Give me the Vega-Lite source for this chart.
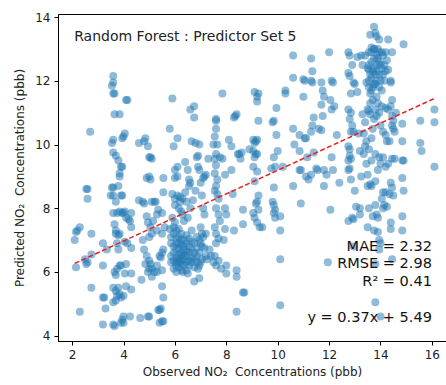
{
  "$schema": "https://vega.github.io/schema/vega-lite/v6.json",
  "width": 388,
  "height": 327,
  "autosize": "none",
  "padding": {"left": 58, "top": 14, "right": 0, "bottom": 44},
  "background": "white",
  "config": {
    "view": {"stroke": "black", "strokeWidth": 1},
    "font": "DejaVu Sans",
    "axis": {
      "grid": false,
      "domainColor": "black",
      "tickColor": "black",
      "tickSize": 4,
      "labelFont": "DejaVu Sans",
      "labelFontSize": 12,
      "labelColor": "#222",
      "titleFont": "DejaVu Sans",
      "titleFontSize": 12,
      "titleFontWeight": "normal",
      "titleColor": "#222"
    }
  },
  "layer": [
    {
      "data": {"values": [
        {"observed": 2.15, "predicted": 7.25}, {"observed": 2.1, "predicted": 7.0}, {"observed": 2.2, "predicted": 7.3}, {"observed": 2.3, "predicted": 7.4},
        {"observed": 2.15, "predicted": 6.15}, {"observed": 2.3, "predicted": 4.75}, {"observed": 2.6, "predicted": 8.6}, {"observed": 2.55, "predicted": 8.6},
        {"observed": 2.6, "predicted": 8.3}, {"observed": 2.7, "predicted": 10.4}, {"observed": 2.75, "predicted": 7.2}, {"observed": 2.6, "predicted": 6.3},
        {"observed": 2.55, "predicted": 6.25}, {"observed": 2.75, "predicted": 6.55}, {"observed": 2.75, "predicted": 5.5}, {"observed": 2.5, "predicted": 6.4},
        {"observed": 3.2, "predicted": 6.9}, {"observed": 3.2, "predicted": 6.2}, {"observed": 3.25, "predicted": 5.2}, {"observed": 3.2, "predicted": 5.2},
        {"observed": 3.3, "predicted": 4.85}, {"observed": 3.2, "predicted": 4.35}, {"observed": 3.35, "predicted": 6.7}, {"observed": 3.5, "predicted": 8.4},
        {"observed": 3.6, "predicted": 12.15}, {"observed": 3.6, "predicted": 11.95}, {"observed": 3.55, "predicted": 11.85}, {"observed": 3.6, "predicted": 11.6},
        {"observed": 3.65, "predicted": 11.6}, {"observed": 3.65, "predicted": 10.95}, {"observed": 3.85, "predicted": 10.95}, {"observed": 3.55, "predicted": 10.05},
        {"observed": 3.6, "predicted": 10.15}, {"observed": 3.6, "predicted": 9.75}, {"observed": 3.7, "predicted": 9.65}, {"observed": 3.55, "predicted": 8.65},
        {"observed": 3.6, "predicted": 8.65}, {"observed": 3.6, "predicted": 8.4}, {"observed": 3.7, "predicted": 8.2}, {"observed": 3.6, "predicted": 7.85},
        {"observed": 3.75, "predicted": 7.85}, {"observed": 3.8, "predicted": 8.7}, {"observed": 3.85, "predicted": 9.0}, {"observed": 3.8, "predicted": 9.5},
        {"observed": 3.9, "predicted": 9.3}, {"observed": 3.95, "predicted": 9.3}, {"observed": 3.85, "predicted": 9.1}, {"observed": 3.9, "predicted": 8.4},
        {"observed": 3.95, "predicted": 8.4}, {"observed": 3.85, "predicted": 7.9}, {"observed": 3.95, "predicted": 7.85}, {"observed": 3.65, "predicted": 7.5},
        {"observed": 3.7, "predicted": 7.3}, {"observed": 3.7, "predicted": 7.2}, {"observed": 3.8, "predicted": 7.15}, {"observed": 3.75, "predicted": 6.9},
        {"observed": 3.8, "predicted": 6.7}, {"observed": 3.85, "predicted": 7.2}, {"observed": 3.9, "predicted": 6.2}, {"observed": 3.85, "predicted": 6.2},
        {"observed": 3.75, "predicted": 6.1}, {"observed": 3.65, "predicted": 6.0}, {"observed": 3.7, "predicted": 5.9}, {"observed": 3.6, "predicted": 5.5},
        {"observed": 3.7, "predicted": 5.4}, {"observed": 3.8, "predicted": 5.5}, {"observed": 3.75, "predicted": 5.25}, {"observed": 3.85, "predicted": 5.3},
        {"observed": 3.9, "predicted": 5.2}, {"observed": 3.6, "predicted": 5.05}, {"observed": 3.7, "predicted": 5.1}, {"observed": 3.6, "predicted": 4.35},
        {"observed": 3.65, "predicted": 4.3}, {"observed": 3.95, "predicted": 4.5}, {"observed": 3.9, "predicted": 4.4}, {"observed": 4.0, "predicted": 4.4},
        {"observed": 4.0, "predicted": 5.25}, {"observed": 4.05, "predicted": 5.95},
        {"observed": 4.0, "predicted": 10.25}, {"observed": 4.05, "predicted": 10.35}, {"observed": 3.95, "predicted": 10.2}, {"observed": 4.15, "predicted": 11.4},
        {"observed": 4.1, "predicted": 11.4}, {"observed": 4.05, "predicted": 7.9}, {"observed": 4.1, "predicted": 7.7}, {"observed": 4.2, "predicted": 7.65},
        {"observed": 4.25, "predicted": 7.6}, {"observed": 4.3, "predicted": 7.85}, {"observed": 4.3, "predicted": 7.4}, {"observed": 4.15, "predicted": 6.9},
        {"observed": 4.3, "predicted": 6.75}, {"observed": 4.1, "predicted": 6.25}, {"observed": 4.3, "predicted": 5.95}, {"observed": 4.0, "predicted": 4.6},
        {"observed": 4.1, "predicted": 5.55}, {"observed": 4.3, "predicted": 5.45}, {"observed": 4.25, "predicted": 4.6}, {"observed": 4.05, "predicted": 6.95},
        {"observed": 4.0, "predicted": 7.85},
        {"observed": 4.6, "predicted": 10.05}, {"observed": 4.8, "predicted": 10.1}, {"observed": 4.85, "predicted": 10.2}, {"observed": 4.95, "predicted": 9.95},
        {"observed": 5.0, "predicted": 9.6}, {"observed": 5.05, "predicted": 9.6}, {"observed": 5.1, "predicted": 9.55}, {"observed": 4.9, "predicted": 8.95},
        {"observed": 5.0, "predicted": 9.0}, {"observed": 5.05, "predicted": 8.9}, {"observed": 4.6, "predicted": 8.25}, {"observed": 4.75, "predicted": 8.2},
        {"observed": 4.8, "predicted": 8.15}, {"observed": 5.1, "predicted": 8.2}, {"observed": 5.2, "predicted": 8.2}, {"observed": 5.25, "predicted": 8.2},
        {"observed": 5.35, "predicted": 7.95}, {"observed": 5.3, "predicted": 7.8}, {"observed": 4.9, "predicted": 7.75}, {"observed": 4.95, "predicted": 7.55},
        {"observed": 5.05, "predicted": 7.4}, {"observed": 5.15, "predicted": 7.6}, {"observed": 5.3, "predicted": 7.3}, {"observed": 5.1, "predicted": 7.2},
        {"observed": 5.0, "predicted": 7.1}, {"observed": 4.75, "predicted": 7.0}, {"observed": 4.8, "predicted": 6.7}, {"observed": 4.9, "predicted": 6.5},
        {"observed": 5.0, "predicted": 6.35}, {"observed": 5.05, "predicted": 6.25}, {"observed": 5.1, "predicted": 6.1}, {"observed": 5.2, "predicted": 6.0},
        {"observed": 5.0, "predicted": 6.1}, {"observed": 4.95, "predicted": 6.0}, {"observed": 5.1, "predicted": 5.85}, {"observed": 4.85, "predicted": 6.25},
        {"observed": 4.7, "predicted": 5.75}, {"observed": 5.3, "predicted": 6.2}, {"observed": 5.4, "predicted": 6.5}, {"observed": 5.45, "predicted": 6.45},
        {"observed": 5.3, "predicted": 6.0}, {"observed": 5.5, "predicted": 6.05}, {"observed": 5.55, "predicted": 6.7}, {"observed": 5.5, "predicted": 6.6},
        {"observed": 5.5, "predicted": 7.2}, {"observed": 5.6, "predicted": 7.4}, {"observed": 5.5, "predicted": 7.85}, {"observed": 5.55, "predicted": 8.5},
        {"observed": 5.55, "predicted": 8.95}, {"observed": 5.5, "predicted": 5.55}, {"observed": 5.55, "predicted": 5.2}, {"observed": 5.35, "predicted": 4.8},
        {"observed": 5.4, "predicted": 4.8}, {"observed": 5.45, "predicted": 4.85}, {"observed": 5.4, "predicted": 4.4}, {"observed": 5.5, "predicted": 4.45},
        {"observed": 5.55, "predicted": 4.45}, {"observed": 5.0, "predicted": 4.6}, {"observed": 4.65, "predicted": 4.55}, {"observed": 4.95, "predicted": 4.6},
        {"observed": 5.9, "predicted": 11.45}, {"observed": 5.8, "predicted": 10.5}, {"observed": 5.95, "predicted": 9.95}, {"observed": 6.1, "predicted": 10.2},
        {"observed": 6.0, "predicted": 8.95}, {"observed": 6.0, "predicted": 9.2}, {"observed": 6.1, "predicted": 9.0}, {"observed": 6.1, "predicted": 9.3},
        {"observed": 5.9, "predicted": 8.45}, {"observed": 6.0, "predicted": 8.3}, {"observed": 6.1, "predicted": 8.4}, {"observed": 6.2, "predicted": 8.35},
        {"observed": 6.3, "predicted": 8.3}, {"observed": 6.2, "predicted": 8.2}, {"observed": 6.0, "predicted": 8.1}, {"observed": 6.15, "predicted": 8.0},
        {"observed": 6.25, "predicted": 7.9}, {"observed": 6.3, "predicted": 7.8}, {"observed": 6.4, "predicted": 8.5}, {"observed": 6.4, "predicted": 9.45},
        {"observed": 6.5, "predicted": 9.2}, {"observed": 6.55, "predicted": 8.9}, {"observed": 6.6, "predicted": 8.8}, {"observed": 6.55, "predicted": 8.7},
        {"observed": 6.45, "predicted": 8.2}, {"observed": 6.35, "predicted": 7.6}, {"observed": 6.5, "predicted": 7.7}, {"observed": 6.6, "predicted": 8.0},
        {"observed": 6.7, "predicted": 8.25}, {"observed": 5.9, "predicted": 7.7}, {"observed": 6.0, "predicted": 7.55}, {"observed": 5.8, "predicted": 7.35},
        {"observed": 5.85, "predicted": 6.3}, {"observed": 5.85, "predicted": 6.5}, {"observed": 5.85, "predicted": 6.9}, {"observed": 5.85, "predicted": 7.1},
        {"observed": 5.95, "predicted": 6.1}, {"observed": 5.95, "predicted": 6.35}, {"observed": 5.95, "predicted": 6.6}, {"observed": 5.95, "predicted": 6.8},
        {"observed": 5.95, "predicted": 7.2}, {"observed": 5.95, "predicted": 7.4}, {"observed": 6.05, "predicted": 6.0}, {"observed": 6.05, "predicted": 6.2},
        {"observed": 6.05, "predicted": 6.3}, {"observed": 6.05, "predicted": 6.45}, {"observed": 6.05, "predicted": 6.7}, {"observed": 6.05, "predicted": 6.9},
        {"observed": 6.05, "predicted": 7.05}, {"observed": 6.05, "predicted": 7.3}, {"observed": 6.15, "predicted": 6.15}, {"observed": 6.15, "predicted": 6.3},
        {"observed": 6.15, "predicted": 6.4}, {"observed": 6.15, "predicted": 6.55}, {"observed": 6.15, "predicted": 6.75}, {"observed": 6.15, "predicted": 6.9},
        {"observed": 6.15, "predicted": 7.1}, {"observed": 6.15, "predicted": 7.35}, {"observed": 6.25, "predicted": 6.05}, {"observed": 6.25, "predicted": 6.25},
        {"observed": 6.25, "predicted": 6.35}, {"observed": 6.25, "predicted": 6.5}, {"observed": 6.25, "predicted": 6.6}, {"observed": 6.25, "predicted": 6.85},
        {"observed": 6.25, "predicted": 7.0}, {"observed": 6.25, "predicted": 7.2}, {"observed": 6.35, "predicted": 6.2}, {"observed": 6.35, "predicted": 6.4},
        {"observed": 6.35, "predicted": 6.55}, {"observed": 6.35, "predicted": 6.7}, {"observed": 6.35, "predicted": 6.8}, {"observed": 6.35, "predicted": 7.0},
        {"observed": 6.45, "predicted": 6.05}, {"observed": 6.45, "predicted": 6.3}, {"observed": 6.45, "predicted": 6.5}, {"observed": 6.45, "predicted": 6.65},
        {"observed": 6.45, "predicted": 6.9}, {"observed": 6.45, "predicted": 7.15}, {"observed": 6.55, "predicted": 6.2}, {"observed": 6.55, "predicted": 6.35},
        {"observed": 6.55, "predicted": 6.6}, {"observed": 6.55, "predicted": 6.8}, {"observed": 6.55, "predicted": 7.05}, {"observed": 6.65, "predicted": 6.3},
        {"observed": 6.65, "predicted": 6.45}, {"observed": 6.65, "predicted": 6.7}, {"observed": 6.65, "predicted": 6.95}, {"observed": 6.65, "predicted": 7.3},
        {"observed": 6.75, "predicted": 6.15}, {"observed": 6.75, "predicted": 6.4}, {"observed": 6.75, "predicted": 6.6}, {"observed": 6.75, "predicted": 6.9},
        {"observed": 6.85, "predicted": 6.3}, {"observed": 6.85, "predicted": 6.5}, {"observed": 6.85, "predicted": 6.75}, {"observed": 6.85, "predicted": 7.1},
        {"observed": 6.95, "predicted": 6.2}, {"observed": 6.95, "predicted": 6.6}, {"observed": 6.95, "predicted": 7.0}, {"observed": 7.05, "predicted": 6.4},
        {"observed": 7.05, "predicted": 6.8}, {"observed": 7.05, "predicted": 7.2}, {"observed": 6.3, "predicted": 6.0}, {"observed": 6.5, "predicted": 5.95},
        {"observed": 6.6, "predicted": 11.1}, {"observed": 6.75, "predicted": 11.2}, {"observed": 6.75, "predicted": 10.85}, {"observed": 6.65, "predicted": 10.1},
        {"observed": 6.8, "predicted": 10.05}, {"observed": 6.95, "predicted": 10.0}, {"observed": 6.9, "predicted": 9.65}, {"observed": 6.85, "predicted": 9.6},
        {"observed": 6.9, "predicted": 9.3}, {"observed": 6.95, "predicted": 9.2}, {"observed": 7.0, "predicted": 8.8}, {"observed": 6.8, "predicted": 8.55},
        {"observed": 7.1, "predicted": 8.95}, {"observed": 7.15, "predicted": 9.0}, {"observed": 7.2, "predicted": 9.05}, {"observed": 7.05, "predicted": 8.4},
        {"observed": 7.1, "predicted": 8.0}, {"observed": 7.15, "predicted": 7.8}, {"observed": 7.0, "predicted": 7.4}, {"observed": 7.2, "predicted": 7.2},
        {"observed": 7.1, "predicted": 7.1}, {"observed": 7.15, "predicted": 6.75}, {"observed": 7.2, "predicted": 6.5}, {"observed": 7.0, "predicted": 6.3},
        {"observed": 6.9, "predicted": 6.1}, {"observed": 6.95, "predicted": 5.8}, {"observed": 6.75, "predicted": 5.7}, {"observed": 7.0, "predicted": 6.9},
        {"observed": 7.35, "predicted": 6.7}, {"observed": 7.4, "predicted": 6.5}, {"observed": 7.25, "predicted": 6.4}, {"observed": 7.3, "predicted": 9.55},
        {"observed": 7.85, "predicted": 11.6}, {"observed": 7.6, "predicted": 10.8}, {"observed": 7.6, "predicted": 10.75}, {"observed": 7.6, "predicted": 10.5},
        {"observed": 7.55, "predicted": 10.25}, {"observed": 7.5, "predicted": 10.0}, {"observed": 7.65, "predicted": 10.0}, {"observed": 7.6, "predicted": 9.7},
        {"observed": 7.55, "predicted": 9.55}, {"observed": 7.75, "predicted": 9.6}, {"observed": 7.85, "predicted": 9.55}, {"observed": 7.6, "predicted": 9.35},
        {"observed": 7.55, "predicted": 9.1}, {"observed": 7.65, "predicted": 8.9}, {"observed": 7.6, "predicted": 8.7}, {"observed": 7.55, "predicted": 8.55},
        {"observed": 7.65, "predicted": 8.45}, {"observed": 7.7, "predicted": 8.3}, {"observed": 7.6, "predicted": 8.0}, {"observed": 7.7, "predicted": 7.8},
        {"observed": 7.75, "predicted": 7.6}, {"observed": 7.55, "predicted": 7.4}, {"observed": 7.6, "predicted": 7.2}, {"observed": 7.7, "predicted": 7.05},
        {"observed": 7.6, "predicted": 6.9}, {"observed": 7.55, "predicted": 6.5}, {"observed": 7.5, "predicted": 6.3}, {"observed": 7.6, "predicted": 6.2},
        {"observed": 7.7, "predicted": 6.35}, {"observed": 7.8, "predicted": 6.1}, {"observed": 7.95, "predicted": 9.05}, {"observed": 7.95, "predicted": 8.0},
        {"observed": 8.0, "predicted": 7.8}, {"observed": 7.95, "predicted": 7.35}, {"observed": 7.9, "predicted": 7.0}, {"observed": 8.0, "predicted": 6.2},
        {"observed": 8.0, "predicted": 5.95}, {"observed": 8.1, "predicted": 10.15}, {"observed": 8.2, "predicted": 9.95}, {"observed": 8.35, "predicted": 10.9},
        {"observed": 8.4, "predicted": 10.95}, {"observed": 8.3, "predicted": 10.85}, {"observed": 8.45, "predicted": 9.7}, {"observed": 8.55, "predicted": 9.55},
        {"observed": 8.6, "predicted": 9.75}, {"observed": 8.2, "predicted": 9.2}, {"observed": 8.25, "predicted": 8.45}, {"observed": 8.3, "predicted": 7.3},
        {"observed": 8.4, "predicted": 6.05}, {"observed": 8.4, "predicted": 5.85}, {"observed": 8.4, "predicted": 4.75}, {"observed": 8.65, "predicted": 5.35},
        {"observed": 8.7, "predicted": 5.35}, {"observed": 8.65, "predicted": 7.95}, {"observed": 8.65, "predicted": 7.5}, {"observed": 8.5, "predicted": 9.7},
        {"observed": 9.1, "predicted": 11.65}, {"observed": 9.25, "predicted": 11.6}, {"observed": 9.2, "predicted": 11.35}, {"observed": 9.2, "predicted": 11.5},
        {"observed": 9.25, "predicted": 10.75}, {"observed": 9.05, "predicted": 10.15}, {"observed": 9.15, "predicted": 10.1}, {"observed": 9.2, "predicted": 10.15},
        {"observed": 9.1, "predicted": 10.05}, {"observed": 9.05, "predicted": 9.8}, {"observed": 9.1, "predicted": 9.6}, {"observed": 9.15, "predicted": 9.7},
        {"observed": 9.2, "predicted": 9.7}, {"observed": 9.05, "predicted": 9.3}, {"observed": 9.2, "predicted": 9.15}, {"observed": 9.1, "predicted": 8.85},
        {"observed": 9.25, "predicted": 8.4}, {"observed": 9.2, "predicted": 8.2}, {"observed": 9.15, "predicted": 8.15}, {"observed": 9.05, "predicted": 7.85},
        {"observed": 9.1, "predicted": 7.7}, {"observed": 9.2, "predicted": 7.55}, {"observed": 9.3, "predicted": 7.4}, {"observed": 9.4, "predicted": 7.4},
        {"observed": 9.25, "predicted": 7.95}, {"observed": 8.9, "predicted": 9.85},
        {"observed": 9.85, "predicted": 10.75}, {"observed": 9.8, "predicted": 10.7}, {"observed": 9.95, "predicted": 11.15}, {"observed": 9.95, "predicted": 10.3},
        {"observed": 9.85, "predicted": 9.6}, {"observed": 10.0, "predicted": 9.8}, {"observed": 9.75, "predicted": 9.25}, {"observed": 9.9, "predicted": 9.3},
        {"observed": 10.2, "predicted": 9.3}, {"observed": 9.85, "predicted": 8.65}, {"observed": 9.8, "predicted": 8.2}, {"observed": 9.85, "predicted": 8.1},
        {"observed": 9.9, "predicted": 7.95}, {"observed": 9.85, "predicted": 7.85}, {"observed": 9.9, "predicted": 7.7}, {"observed": 10.1, "predicted": 7.75},
        {"observed": 10.1, "predicted": 7.3}, {"observed": 10.1, "predicted": 6.4}, {"observed": 10.1, "predicted": 4.95},
        {"observed": 10.3, "predicted": 11.7}, {"observed": 10.3, "predicted": 11.6}, {"observed": 10.6, "predicted": 12.8}, {"observed": 10.6, "predicted": 12.1},
        {"observed": 10.6, "predicted": 10.5}, {"observed": 10.65, "predicted": 10.0}, {"observed": 10.6, "predicted": 8.7}, {"observed": 10.85, "predicted": 10.3},
        {"observed": 10.85, "predicted": 9.8}, {"observed": 10.85, "predicted": 9.2}, {"observed": 10.9, "predicted": 9.2}, {"observed": 10.9, "predicted": 8.15},
        {"observed": 11.0, "predicted": 12.05}, {"observed": 11.05, "predicted": 12.0}, {"observed": 11.0, "predicted": 11.5}, {"observed": 11.05, "predicted": 10.2},
        {"observed": 11.1, "predicted": 10.2}, {"observed": 11.15, "predicted": 9.6}, {"observed": 11.2, "predicted": 8.9}, {"observed": 11.1, "predicted": 9.0},
        {"observed": 11.3, "predicted": 9.05},
        {"observed": 11.3, "predicted": 12.7}, {"observed": 11.35, "predicted": 12.3}, {"observed": 11.3, "predicted": 12.0}, {"observed": 11.35, "predicted": 11.95},
        {"observed": 11.4, "predicted": 10.85}, {"observed": 11.35, "predicted": 10.6}, {"observed": 11.3, "predicted": 10.4}, {"observed": 11.4, "predicted": 9.75},
        {"observed": 11.5, "predicted": 9.25}, {"observed": 11.55, "predicted": 9.2}, {"observed": 11.6, "predicted": 10.5}, {"observed": 11.7, "predicted": 10.45},
        {"observed": 11.7, "predicted": 11.95}, {"observed": 11.75, "predicted": 11.7}, {"observed": 11.8, "predicted": 11.5}, {"observed": 11.7, "predicted": 11.25},
        {"observed": 11.75, "predicted": 10.9}, {"observed": 11.8, "predicted": 9.2}, {"observed": 11.9, "predicted": 9.05}, {"observed": 11.8, "predicted": 8.7},
        {"observed": 12.0, "predicted": 12.9}, {"observed": 12.05, "predicted": 11.4}, {"observed": 12.1, "predicted": 11.1}, {"observed": 12.1, "predicted": 9.6},
        {"observed": 12.15, "predicted": 9.2}, {"observed": 12.15, "predicted": 11.95}, {"observed": 12.1, "predicted": 12.0}, {"observed": 12.2, "predicted": 11.2},
        {"observed": 12.05, "predicted": 7.95}, {"observed": 11.95, "predicted": 6.3},
        {"observed": 12.3, "predicted": 10.3}, {"observed": 12.4, "predicted": 8.8}, {"observed": 12.75, "predicted": 12.9}, {"observed": 12.8, "predicted": 12.8},
        {"observed": 12.75, "predicted": 12.25}, {"observed": 12.8, "predicted": 12.15}, {"observed": 12.85, "predicted": 11.6}, {"observed": 12.75, "predicted": 11.1},
        {"observed": 12.85, "predicted": 11.0}, {"observed": 12.8, "predicted": 10.8}, {"observed": 12.9, "predicted": 12.5}, {"observed": 12.95, "predicted": 11.95},
        {"observed": 12.85, "predicted": 10.4}, {"observed": 12.75, "predicted": 9.95}, {"observed": 12.8, "predicted": 9.85}, {"observed": 12.8, "predicted": 9.65},
        {"observed": 12.75, "predicted": 9.5}, {"observed": 12.8, "predicted": 9.25}, {"observed": 12.75, "predicted": 9.2}, {"observed": 12.85, "predicted": 9.55},
        {"observed": 12.75, "predicted": 7.6}, {"observed": 12.85, "predicted": 8.9}, {"observed": 12.95, "predicted": 10.4}, {"observed": 12.9, "predicted": 10.6},
        {"observed": 13.0, "predicted": 11.9}, {"observed": 13.1, "predicted": 12.75}, {"observed": 13.0, "predicted": 8.55}, {"observed": 13.05, "predicted": 8.05},
        {"observed": 12.95, "predicted": 7.65}, {"observed": 12.9, "predicted": 7.7}, {"observed": 12.95, "predicted": 6.8}, {"observed": 13.1, "predicted": 11.65},
        {"observed": 13.15, "predicted": 10.35}, {"observed": 13.2, "predicted": 9.8}, {"observed": 13.25, "predicted": 9.0}, {"observed": 13.25, "predicted": 12.8},
        {"observed": 13.3, "predicted": 12.5}, {"observed": 13.2, "predicted": 8.0}, {"observed": 13.2, "predicted": 7.8},
        {"observed": 13.75, "predicted": 13.7}, {"observed": 13.8, "predicted": 13.5}, {"observed": 13.85, "predicted": 13.4}, {"observed": 13.6, "predicted": 13.45},
        {"observed": 13.65, "predicted": 13.05}, {"observed": 13.75, "predicted": 13.0}, {"observed": 13.9, "predicted": 13.0}, {"observed": 13.95, "predicted": 12.9},
        {"observed": 14.2, "predicted": 12.9}, {"observed": 14.1, "predicted": 12.8}, {"observed": 14.25, "predicted": 12.65}, {"observed": 13.5, "predicted": 12.4},
        {"observed": 13.55, "predicted": 12.35}, {"observed": 13.6, "predicted": 12.2}, {"observed": 13.7, "predicted": 12.3}, {"observed": 13.8, "predicted": 12.2},
        {"observed": 13.85, "predicted": 12.5}, {"observed": 13.9, "predicted": 12.7}, {"observed": 14.0, "predicted": 12.0}, {"observed": 14.1, "predicted": 12.2},
        {"observed": 14.2, "predicted": 12.3}, {"observed": 14.3, "predicted": 12.35}, {"observed": 14.4, "predicted": 12.0}, {"observed": 13.4, "predicted": 12.8},
        {"observed": 13.45, "predicted": 11.95}, {"observed": 13.55, "predicted": 11.8}, {"observed": 13.6, "predicted": 11.6}, {"observed": 13.7, "predicted": 11.8},
        {"observed": 13.8, "predicted": 11.9}, {"observed": 13.85, "predicted": 11.5}, {"observed": 13.9, "predicted": 11.3}, {"observed": 14.05, "predicted": 11.2},
        {"observed": 14.2, "predicted": 11.15}, {"observed": 14.3, "predicted": 11.1}, {"observed": 14.4, "predicted": 11.2}, {"observed": 14.45, "predicted": 10.9},
        {"observed": 13.5, "predicted": 11.1}, {"observed": 13.55, "predicted": 11.05}, {"observed": 13.6, "predicted": 10.95}, {"observed": 13.4, "predicted": 10.7},
        {"observed": 13.35, "predicted": 10.35}, {"observed": 13.45, "predicted": 10.1}, {"observed": 13.65, "predicted": 10.2}, {"observed": 13.7, "predicted": 10.5},
        {"observed": 13.75, "predicted": 10.8}, {"observed": 14.0, "predicted": 10.6}, {"observed": 14.1, "predicted": 10.4}, {"observed": 14.2, "predicted": 10.3},
        {"observed": 14.35, "predicted": 10.1}, {"observed": 14.45, "predicted": 10.6}, {"observed": 14.5, "predicted": 10.75}, {"observed": 14.25, "predicted": 10.1},
        {"observed": 13.4, "predicted": 9.95}, {"observed": 13.55, "predicted": 9.85}, {"observed": 13.65, "predicted": 9.5}, {"observed": 13.8, "predicted": 9.7},
        {"observed": 13.95, "predicted": 9.6}, {"observed": 14.1, "predicted": 9.6}, {"observed": 14.2, "predicted": 9.3}, {"observed": 14.0, "predicted": 9.4},
        {"observed": 13.9, "predicted": 9.2}, {"observed": 13.45, "predicted": 9.4}, {"observed": 13.5, "predicted": 9.05}, {"observed": 13.6, "predicted": 8.75},
        {"observed": 13.8, "predicted": 8.85}, {"observed": 13.65, "predicted": 8.7}, {"observed": 14.05, "predicted": 8.3}, {"observed": 14.1, "predicted": 8.5},
        {"observed": 14.2, "predicted": 8.5}, {"observed": 14.4, "predicted": 8.8}, {"observed": 14.45, "predicted": 8.65}, {"observed": 14.5, "predicted": 8.4},
        {"observed": 13.5, "predicted": 8.7}, {"observed": 13.55, "predicted": 8.0}, {"observed": 13.8, "predicted": 8.1}, {"observed": 13.85, "predicted": 7.8},
        {"observed": 13.7, "predicted": 7.75}, {"observed": 13.9, "predicted": 7.7}, {"observed": 14.15, "predicted": 8.1}, {"observed": 14.25, "predicted": 8.05},
        {"observed": 14.4, "predicted": 7.55}, {"observed": 14.4, "predicted": 7.35}, {"observed": 13.5, "predicted": 7.4}, {"observed": 13.75, "predicted": 7.3},
        {"observed": 13.9, "predicted": 7.25}, {"observed": 13.95, "predicted": 7.0}, {"observed": 14.0, "predicted": 6.9}, {"observed": 13.95, "predicted": 6.7},
        {"observed": 14.45, "predicted": 6.4}, {"observed": 13.8, "predicted": 6.25}, {"observed": 13.8, "predicted": 5.05}, {"observed": 14.0, "predicted": 4.6},
        {"observed": 14.3, "predicted": 13.3}, {"observed": 14.45, "predicted": 12.9}, {"observed": 14.4, "predicted": 11.95}, {"observed": 14.45, "predicted": 11.4},
        {"observed": 14.6, "predicted": 11.0}, {"observed": 14.55, "predicted": 10.4}, {"observed": 14.5, "predicted": 10.5}, {"observed": 14.55, "predicted": 9.55},
        {"observed": 14.45, "predicted": 9.55}, {"observed": 14.3, "predicted": 9.4}, {"observed": 14.35, "predicted": 8.45}, {"observed": 14.1, "predicted": 8.0},
        {"observed": 13.35, "predicted": 9.7}, {"observed": 13.3, "predicted": 10.95}, {"observed": 13.95, "predicted": 13.3}, {"observed": 14.0, "predicted": 12.5},
        {"observed": 14.05, "predicted": 11.7}, {"observed": 13.95, "predicted": 11.0}, {"observed": 13.85, "predicted": 10.9},
        {"observed": 13.55, "predicted": 12.0}, {"observed": 13.55, "predicted": 12.5}, {"observed": 13.55, "predicted": 12.9}, {"observed": 13.65, "predicted": 11.7},
        {"observed": 13.65, "predicted": 12.1}, {"observed": 13.65, "predicted": 12.6}, {"observed": 13.65, "predicted": 12.9}, {"observed": 13.75, "predicted": 11.9},
        {"observed": 13.75, "predicted": 12.4}, {"observed": 13.75, "predicted": 12.7}, {"observed": 13.75, "predicted": 13.0}, {"observed": 13.85, "predicted": 12.0},
        {"observed": 13.85, "predicted": 12.3}, {"observed": 13.85, "predicted": 12.8}, {"observed": 13.95, "predicted": 11.8}, {"observed": 13.95, "predicted": 12.2},
        {"observed": 13.95, "predicted": 12.6}, {"observed": 14.05, "predicted": 12.4}, {"observed": 14.05, "predicted": 12.9}, {"observed": 14.15, "predicted": 12.0},
        {"observed": 14.15, "predicted": 12.5}, {"observed": 13.6, "predicted": 11.3}, {"observed": 13.7, "predicted": 11.4}, {"observed": 13.8, "predicted": 11.1},
        {"observed": 14.9, "predicted": 13.15}, {"observed": 14.85, "predicted": 10.65}, {"observed": 14.85, "predicted": 10.1}, {"observed": 14.85, "predicted": 9.5},
        {"observed": 14.9, "predicted": 9.5}, {"observed": 14.85, "predicted": 8.95}, {"observed": 14.9, "predicted": 8.55}, {"observed": 14.85, "predicted": 7.75},
        {"observed": 14.85, "predicted": 7.3}, {"observed": 15.55, "predicted": 10.75}, {"observed": 15.55, "predicted": 10.05}, {"observed": 15.6, "predicted": 9.8},
        {"observed": 16.1, "predicted": 11.1}, {"observed": 16.1, "predicted": 10.7}, {"observed": 16.1, "predicted": 9.3}
      ]},
      "mark": {"type": "circle", "size": 64, "opacity": 0.5, "color": "#1f77b4"},
      "encoding": {
        "x": {
          "field": "observed", "type": "quantitative",
          "scale": {"domain": [1.45, 16.55], "nice": false, "zero": false},
          "axis": {"values": [2, 4, 6, 8, 10, 12, 14, 16], "format": "d", "labelPadding": 4, "titlePadding": 6,
                   "title": "Observed NO₂\u00a0 Concentrations (pbb)"}
        },
        "y": {
          "field": "predicted", "type": "quantitative",
          "scale": {"domain": [3.83, 14.1], "nice": false, "zero": false},
          "axis": {"values": [4, 6, 8, 10, 12, 14], "format": "d", "labelPadding": 4, "titlePadding": 8,
                   "title": "Predicted NO₂\u00a0 Concentrations (pbb)"}
        }
      }
    },
    {
      "data": {"values": [
        {"observed": 2.1, "predicted": 6.267},
        {"observed": 16.13, "predicted": 11.458}
      ]},
      "mark": {"type": "line", "color": "#e8211d", "strokeWidth": 1.5, "strokeDash": [5, 2.5]},
      "encoding": {
        "x": {"field": "observed", "type": "quantitative"},
        "y": {"field": "predicted", "type": "quantitative"}
      }
    },
    {
      "data": {"values": [
        {"observed": 2.08, "predicted": 13.265, "label": "Random Forest : Predictor Set 5"}
      ]},
      "mark": {"type": "text", "align": "left", "baseline": "alphabetic", "fontSize": 14, "font": "DejaVu Sans", "color": "#222"},
      "encoding": {
        "x": {"field": "observed", "type": "quantitative"},
        "y": {"field": "predicted", "type": "quantitative"},
        "text": {"field": "label"}
      }
    },
    {
      "data": {"values": [
        {"observed": 16.0, "predicted": 6.66, "label": "MAE = 2.32"},
        {"observed": 16.0, "predicted": 6.12, "label": "RMSE = 2.98"},
        {"observed": 16.0, "predicted": 5.57, "label": "R² = 0.41"},
        {"observed": 16.0, "predicted": 4.43, "label": "y = 0.37x + 5.49"}
      ]},
      "mark": {"type": "text", "align": "right", "baseline": "alphabetic", "fontSize": 14.5, "font": "DejaVu Sans", "color": "#111"},
      "encoding": {
        "x": {"field": "observed", "type": "quantitative"},
        "y": {"field": "predicted", "type": "quantitative"},
        "text": {"field": "label"}
      }
    }
  ]
}
